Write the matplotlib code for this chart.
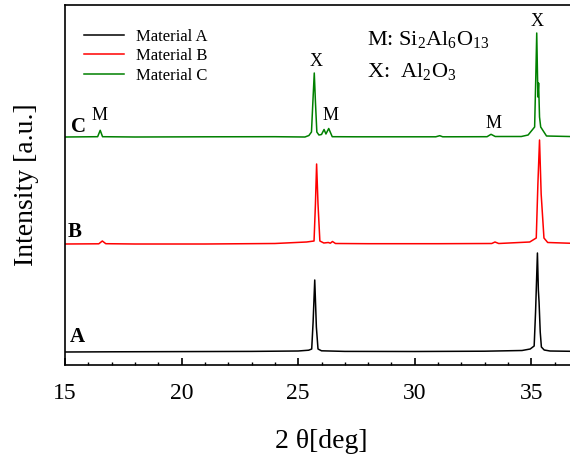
import matplotlib
matplotlib.use("Agg")
import matplotlib.pyplot as plt
from matplotlib.ticker import MultipleLocator

plt.rcParams['font.family'] = ['Liberation Serif', 'DejaVu Serif']
plt.rcParams['mathtext.default'] = 'regular'

# ---- data (2theta in deg, intensity in a.u. above each trace's baseline) ----
names = ["Material A", "Material B", "Material C"]
colors = ["#000000", "#ff0000", "#008000"]
offsets = [13, 121, 228]

a_x = [15.0, 17.0, 20.0, 23.0, 25.0, 25.45, 25.58, 25.64, 25.71, 25.78, 25.85, 26.0, 27.0,
       30.0, 33.0, 34.6, 34.95, 35.12, 35.18, 35.26, 35.30, 35.33, 35.38, 35.43, 35.55, 35.8, 37.0]
a_y = [0.0, 0.2, 0.4, 0.6, 1.0, 1.8, 3.0, 30, 72, 25, 3.0, 1.2, 0.6,
       0.5, 0.8, 1.5, 3.0, 6.0, 40, 99, 62, 50, 20, 5.0, 2.0, 1.0, 0.6]

b_x = [15.0, 16.45, 16.6, 16.75, 18.0, 21.0, 24.0, 25.36, 25.68, 25.74, 25.79, 25.85, 25.93,
       26.1, 26.29, 26.38, 26.47, 26.6, 28.0, 31.0, 33.3, 33.44, 33.6, 34.93, 35.21, 35.28,
       35.35, 35.42, 35.54, 35.7, 37.0]
b_y = [0.0, 0.2, 3.0, 0.3, 0.0, 0.0, 0.5, 2.0, 3.0, 40, 80, 40, 3.0,
       1.0, 1.5, 0.8, 2.5, 0.5, 0.3, 0.3, 0.5, 2.0, 0.5, 2.0, 6.0, 60,
       104, 50, 6.0, 1.5, 0.5]

c_x = [15.0, 16.4, 16.51, 16.61, 18.0, 21.0, 24.0, 25.29, 25.46, 25.57, 25.63, 25.69, 25.74,
       25.80, 25.89, 26.0, 26.11, 26.19, 26.31, 26.46, 27.5, 30.9, 31.07, 31.2, 33.1, 33.27,
       33.45, 34.57, 34.86, 35.14, 35.19, 35.23, 35.28, 35.31, 35.35, 35.40, 35.65, 37.0]
c_y = [0.0, 0.3, 6.7, 0.3, 0.0, 0.2, 0.3, 0.0, 1.5, 5.0, 35, 64, 35,
       5.0, 2.0, 2.5, 7.5, 3.0, 8.5, 0.3, 0.2, 0.2, 1.3, 0.2, 0.3, 2.7,
       0.5, 0.5, 2.0, 10, 60, 104, 40, 54, 20, 10, 1.0, 0.3]

series_x = [a_x, b_x, c_x]
series_y = [a_y, b_y, c_y]

trace_labels = ["A", "B", "C"]
trace_label_pos = [(15.51, 28), (15.43, 133), (15.6, 238)]

peak_labels = ["M", "X", "M", "M", "X"]
peak_label_pos = [(16.5, 249), (25.79, 304), (26.40, 250), (33.36, 242), (35.26, 343)]

phase_text = ["M: Si$_{2}$Al$_{6}$O$_{13}$", "X:  Al$_{2}$O$_{3}$"]
phase_pos = [(27.96, 326), (27.96, 294)]

xticks = [15, 20, 25, 30, 35]

# ---- figure ----
fig = plt.figure(figsize=(5.70, 4.61), dpi=100)
ax = fig.add_axes([65 / 570, 96 / 461, 513 / 570, 360 / 461])

for xs, ys, off, c, n in zip(series_x, series_y, offsets, colors, names):
    ax.plot(xs, [v + off for v in ys], color=c, lw=1.1, label=n)

ax.set_xlim(15, 37)
ax.set_ylim(0, 360)
ax.set_xticks(xticks)
ax.set_xticklabels([str(t) for t in xticks])
ax.xaxis.set_minor_locator(MultipleLocator(1))
ax.tick_params(axis='x', which='major', direction='in', length=5, width=1.2,
               labelsize=17, pad=13, top=False)
ax.tick_params(axis='x', which='minor', direction='in', length=2.5, width=1.0, top=False)
ax.set_yticks([])
ax.spines['right'].set_visible(False)
for s in ['left', 'bottom', 'top']:
    ax.spines[s].set_linewidth(1.2)

ax.set_xlabel("2 \u03b8[deg]", fontsize=20, labelpad=18)
ax.set_ylabel("Intensity [a.u.]", fontsize=20, labelpad=19)

for t, (x, y) in zip(trace_labels, trace_label_pos):
    ax.text(x, y, t, fontsize=15, fontweight='bold', ha='center', va='center')
for t, (x, y) in zip(peak_labels, peak_label_pos):
    ax.text(x, y, t, fontsize=13, ha='center', va='center')
for t, (x, y) in zip(phase_text, phase_pos):
    ax.text(x, y, t, fontsize=16, ha='left', va='center')

leg = ax.legend(loc='upper left', bbox_to_anchor=(0.025, 0.953), frameon=False,
                fontsize=12, handlelength=2.4, handletextpad=0.7, labelspacing=0.22,
                borderaxespad=0.0)

fig.savefig("out.png", dpi=100)
